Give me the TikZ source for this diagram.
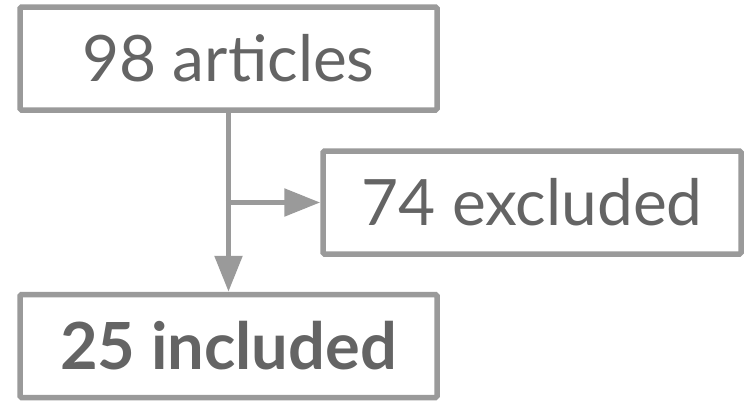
\documentclass[tikz,border=0pt]{standalone}
\usepackage{fontspec}
\setmainfont{Lato}
\usetikzlibrary{arrows.meta}
\definecolor{framegray}{HTML}{9A9A9A}
\definecolor{textgray}{HTML}{646464}
\tikzset{
  flowbox/.style={draw=framegray, line width=5.5pt, rounded corners=1.5pt,
    minimum width=417pt, minimum height=103pt, inner sep=0pt,
    text=textgray, font=\fontsize{64}{76}\selectfont},
  flowline/.style={draw=framegray, line width=5.5pt,
    -{Triangle[length=36pt, width=27pt]}},
}
\begin{document}
\begin{tikzpicture}[x=1pt, y=-1pt]
  \useasboundingbox (0,0) rectangle (748,402);
  % the three boxes
  \node[flowbox] (articles) at (228.5,58.5) {98 articles};
  \node[flowbox, minimum width=418pt] (excluded) at (532,202.5) {74 excluded};
  \node[flowbox, font=\fontsize{65}{78}\selectfont\bfseries] (included) at (228.5,346) {25 included};
  % branch point on the trunk line
  \coordinate (branch) at (articles.south |- excluded.west);
  % connectors
  \draw[flowline] (articles.south) -- (included.north);
  \draw[flowline] ([xshift=-2.75pt]branch) -- (excluded.west);
\end{tikzpicture}
\end{document}
